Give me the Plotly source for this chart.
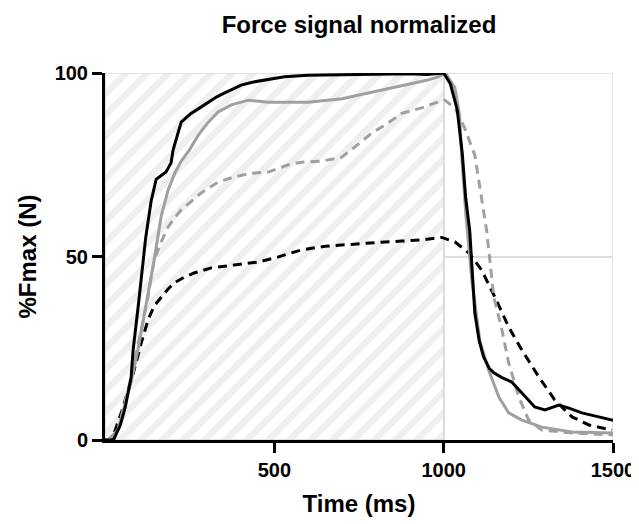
import plotly.graph_objects as go

# black solid
t_bs = [0, 25, 45, 60, 77, 83, 100, 120, 136, 151, 165, 180, 195, 201, 225, 254, 280, 305, 330,
        352, 380, 402, 435, 470, 500, 530, 600, 700, 800, 900, 950, 1000, 1020, 1040, 1055, 1065,
        1077, 1083, 1092, 1105, 1118, 1135, 1148, 1172, 1201, 1231, 1269, 1299, 1340, 1370, 1408,
        1458, 1500]
v_bs = [0, 0, 4, 9, 17, 24.5, 38, 55, 65, 71, 72, 73, 75.5, 79, 86.6, 89, 90.5, 92, 93.5,
        94.5, 95.8, 96.7, 97.5, 98, 98.5, 99, 99.4, 99.6, 99.7, 99.8, 99.6, 100, 97, 90, 78, 66,
        57, 48, 34.6, 27, 22.6, 19.5, 18.3, 17, 15.8, 12.8, 9, 8.2, 9.5, 8.7, 7.4,
        6.3, 5.4]

# gray solid
t_gs = [0, 9, 38, 62, 77, 97, 120, 145, 166, 186, 205, 225, 249, 275, 305, 334, 373, 423, 482,
        540, 600, 650, 700, 750, 800, 850, 900, 950, 985, 1005, 1033, 1047, 1053, 1065, 1083,
        1107, 1133, 1163, 1192, 1231, 1290, 1379, 1500]
v_gs = [0, 0, 2.7, 11, 16, 24.5, 36, 49, 61, 68, 72.5, 76, 79, 83, 86.6, 89.4, 91.3, 92.6, 92,
        92, 92, 92.5, 93, 94, 95, 96, 97, 98, 99, 100, 96, 88.5, 77.6, 62, 43.6,
        27, 19, 11.7, 7.4, 5.4, 3.5, 2.2, 1.9]

# gray dashed
t_gd = [0, 9, 38, 62, 80, 100, 125, 145, 166, 186, 205, 225, 284, 334, 382, 432, 482, 541, 580,
        640, 698, 740, 787, 830, 876, 935, 973, 1003, 1033, 1062, 1092, 1127, 1148, 1172, 1192,
        1222, 1251, 1290, 1379, 1500]
v_gd = [0, 0, 2.7, 11, 18, 27, 38, 49, 54, 58, 60.5, 62.7, 67.3, 70.3, 71.7, 72.7, 73, 75, 75.7,
        76, 77, 80, 83.6, 86, 89, 90.5, 91.8, 92.6, 90.5, 85, 77.6, 57, 39, 30, 21,
        11.7, 5.4, 2.7, 1.9, 1.4]

# black dashed
t_bd = [0, 20, 50, 80, 107, 127, 145, 166, 185, 204, 233, 263, 314, 382, 453, 512, 580, 650, 728,
        800, 876, 935, 994, 1033, 1074, 1112, 1151, 1192, 1231, 1281, 1328, 1379, 1429, 1497]
v_bd = [0, 0, 8, 17, 26.4, 32.7, 36.5, 39, 41, 42.8, 44.3, 45.5, 46.9, 47.7, 48.5, 49.9, 51.8,
        52.8, 53.4, 53.8, 54.2, 54.5, 55.2, 54, 51, 46.3, 39, 30.8, 24.5, 17.2, 10.9, 6.3, 4.1, 2.7]

# hatched window 0-1000 ms
shade_x = [0, 1000, 1000, 0, 0]
shade_y = [0, 0, 100, 100, 0]

FONT = "Liberation Sans, Arial, sans-serif"
GRAY = "#a0a0a0"
GRID = "#dcdcdc"

fig = go.Figure()

fig.add_trace(go.Scatter(
    x=shade_x, y=shade_y, fill="toself", mode="lines",
    line=dict(color=GRID, width=1.5),
    fillcolor="white",
    fillpattern=dict(shape="/", fgcolor="#e0e0e0", bgcolor="white", size=15, solidity=0.45),
    hoverinfo="skip", showlegend=False,
))

series = [
    (t_bd, v_bd, "black", "9px,6px"),
    (t_gd, v_gd, GRAY, "9px,6px"),
    (t_gs, v_gs, GRAY, "solid"),
    (t_bs, v_bs, "black", "solid"),
]
for tx, vy, col, dash in series:
    fig.add_trace(go.Scatter(
        x=tx, y=vy, mode="lines",
        line=dict(color=col, width=3, dash=dash),
        cliponaxis=False, showlegend=False,
    ))

# frame lines of the open part of the plot
fig.add_shape(type="line", x0=1000, x1=1500, y0=100, y1=100, layer="below",
              line=dict(color=GRID, width=1.5))
fig.add_shape(type="line", x0=1500, x1=1500, y0=0, y1=100, layer="below",
              line=dict(color=GRID, width=1.5))

# page body has an 8px margin, so the figure is 8px smaller than the window
W, H = 631, 516
fig.update_layout(
    width=W, height=H,
    margin=dict(l=97, r=26, t=65, b=84),
    plot_bgcolor="white", paper_bgcolor="white",
    font=dict(family=FONT, size=20, color="black"),
    title=dict(text="<b>Force signal normalized</b>", x=351 / W, xanchor="center",
               y=1 - 17 / H, yanchor="middle", font=dict(size=24)),
)
fig.update_xaxes(
    range=[0, 1500], tickvals=[500, 1000, 1500],
    ticktext=["<b>500</b>", "<b>1000</b>", "<b>1500</b>"],
    showline=True, linecolor="black", linewidth=3,
    ticks="outside", ticklen=10, tickwidth=3, tickcolor="black",
    showgrid=True, gridcolor=GRID, gridwidth=1.5, zeroline=False,
    automargin=False,
    title=dict(text="<b>Time (ms)</b>", standoff=16),
)
fig.update_yaxes(
    range=[0, 100], tickvals=[0, 50, 100], ticktext=["<b>0</b>", "<b>50</b>", "<b>100</b>"],
    showline=True, linecolor="black", linewidth=3,
    ticks="outside", ticklen=10, tickwidth=3, tickcolor="black",
    showgrid=True, gridcolor=GRID, gridwidth=1.5, zeroline=False,
    automargin=False,
    title=dict(text="<b>%Fmax (N)</b>", standoff=12),
)

fig.write_html("out.html")
